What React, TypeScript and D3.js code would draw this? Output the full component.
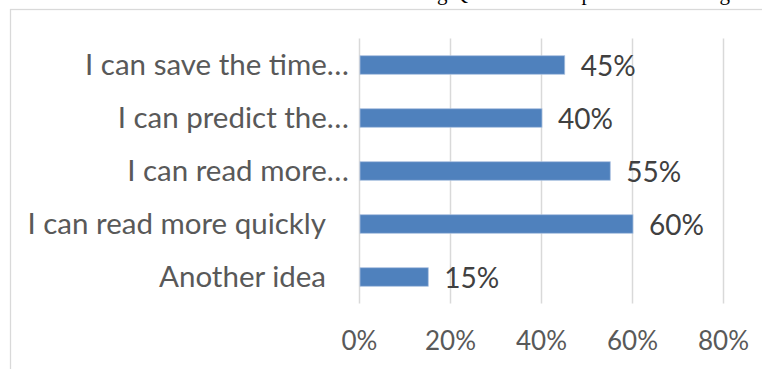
import React from "react";
import * as d3 from "d3";

const categories = [
  "I can save the time…",
  "I can predict the…",
  "I can read more…",
  "I can read more quickly",
  "Another idea",
];
const values = [0.45, 0.4, 0.55, 0.6, 0.15];
const ticks = [0, 0.2, 0.4, 0.6, 0.8];
const titleFragments = [
  { text: "ing Q", x: 468 },
  { text: "p", x: 592 },
  { text: "g", x: 730 },
];

const W = 762;
const H = 369;
const FONT = "Lato, 'Open Sans', sans-serif";

export default function App() {
  const x = d3.scaleLinear().domain([0, 0.8]).range([359.5, 723.5]);
  const y = d3
    .scaleBand<string>()
    .domain(categories)
    .range([38.5, 303.5])
    .paddingInner(0.651)
    .paddingOuter(0.3255);
  const fmt = d3.format(".0%");
  const top = 38.5;
  const bottom = 303.5;

  return (
    <svg
      width={W}
      height={H}
      style={{ position: "absolute", left: 0, top: 0, background: "#fff" }}
    >
      {titleFragments.map((t, i) => (
        <text
          key={i}
          x={t.x}
          y={0}
          textAnchor="end"
          fontFamily="'Liberation Serif', 'DejaVu Serif', serif"
          fontSize={21}
          fill="#000"
        >
          {t.text}
        </text>
      ))}
      <rect
        x={10.5}
        y={9.5}
        width={900}
        height={500}
        fill="#fff"
        stroke="#d9d9d9"
        strokeWidth={1.25}
      />
      {ticks.map((t) => (
        <line
          key={t}
          x1={x(t)}
          x2={x(t)}
          y1={top}
          y2={bottom}
          stroke="#d9d9d9"
          strokeWidth={1.5}
        />
      ))}
      {categories.map((c, i) => {
        const y0 = y(c) as number;
        const bw = y.bandwidth();
        const cy = y0 + bw / 2;
        const truncated = c.endsWith("…");
        return (
          <g key={c}>
            <rect
              x={x(0) + 0.5}
              y={y0}
              width={x(values[i]) - x(0)}
              height={bw}
              fill="#4f81bd"
              stroke="#a9c0df"
              strokeWidth={0.75}
            />
            <text
              x={truncated ? 349 : 326}
              y={cy + 9.5}
              textAnchor="end"
              fontFamily={FONT}
              fontSize={29.5}
              fill="#595959"
            >
              {c}
            </text>
            <text
              x={x(values[i]) + 16.5}
              y={cy + 11}
              fontFamily={FONT}
              fontSize={28}
              fill="#404040"
            >
              {fmt(values[i])}
            </text>
          </g>
        );
      })}
      {ticks.map((t) => (
        <text
          key={"l" + t}
          x={x(t)}
          y={350}
          textAnchor="middle"
          fontFamily={FONT}
          fontSize={26}
          fill="#595959"
        >
          {fmt(t)}
        </text>
      ))}
    </svg>
  );
}
